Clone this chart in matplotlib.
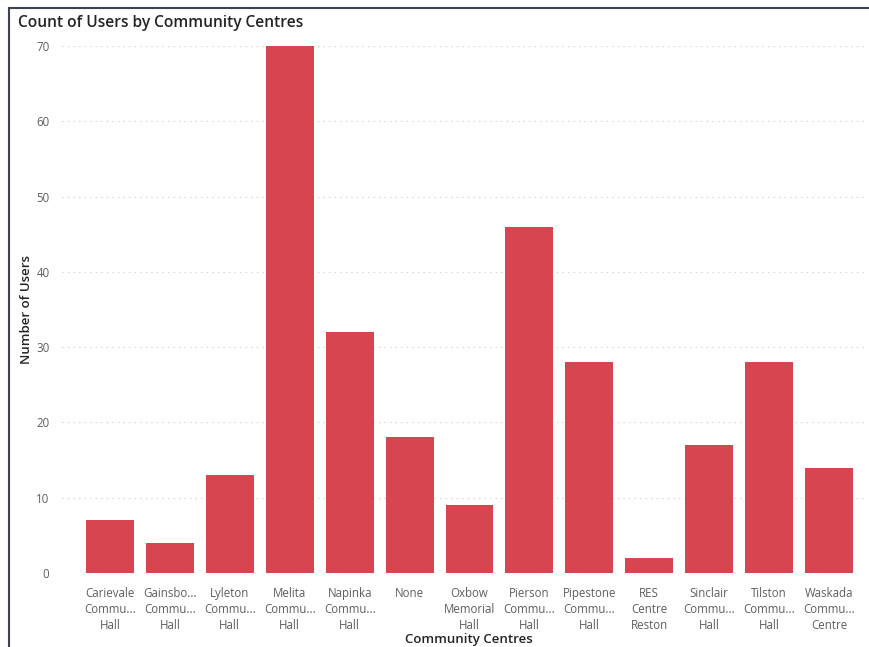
import matplotlib
matplotlib.use("Agg")
import matplotlib.pyplot as plt
from matplotlib.lines import Line2D

# 各社区中心的用户数
centres = [
    "Carievale\nCommu...\nHall", "Gainsbo...\nCommu...\nHall", "Lyleton\nCommu...\nHall",
    "Melita\nCommu...\nHall", "Napinka\nCommu...\nHall", "None",
    "Oxbow\nMemorial\nHall", "Pierson\nCommu...\nHall", "Pipestone\nCommu...\nHall",
    "RES\nCentre\nReston", "Sinclair\nCommu...\nHall", "Tilston\nCommu...\nHall",
    "Waskada\nCommu...\nCentre",
]
users = [7, 4, 13, 70, 32, 18, 9, 46, 28, 2, 17, 28, 14]
y_ticks = [0, 10, 20, 30, 40, 50, 60, 70]

plt.rcParams["font.family"] = ["Open Sans", "DejaVu Sans"]

fig = plt.figure(figsize=(8.7, 6.47), dpi=100)
ax = fig.add_axes([62 / 870, 1 - 573 / 647, (865 - 62) / 870, (573 - 46) / 647])

x = list(range(len(users)))
ax.bar(x, users, width=0.8, color="#D64550", zorder=3)

ax.set_xlim(-0.8, 12.6)
ax.set_ylim(0, 70)
ax.set_yticks(y_ticks)
ax.set_xticks(x)
ax.set_xticklabels(centres, fontsize=8.3, color="#605E5C", linespacing=1.33)
ax.tick_params(axis="y", labelsize=8.3, labelcolor="#605E5C", length=0, pad=9)
ax.tick_params(axis="x", length=0, pad=10)
ax.grid(axis="y", color="#C8C8C8", linestyle=(0, (1, 4)), linewidth=0.8, zorder=0)
for side in ax.spines.values():
    side.set_visible(False)

ax.set_ylabel("Number of Users", fontsize=9.5, color="#252423", fontweight="semibold")
ax.yaxis.set_label_coords((33 - 62) / 803, 0.5)
ax.set_xlabel("Community Centres", fontsize=9.5, color="#252423", fontweight="semibold")
ax.xaxis.set_label_coords((469 - 62) / 803, (573 - 639) / 527)
ax.xaxis.label.set_va("center")

fig.text(18 / 870, 1 - 23 / 647, "Count of Users by Community Centres", fontsize=11.2,
         fontweight="semibold", color="#252423", va="center", ha="left")

# 外框：只有上边和左边
fig.add_artist(Line2D([9 / 870, 1], [1 - 8 / 647, 1 - 8 / 647], color="#3B4252", lw=1.5))
fig.add_artist(Line2D([9 / 870, 9 / 870], [0, 1 - 8 / 647], color="#3B4252", lw=1.5))

fig.savefig("out.png", dpi=100)
plt.close(fig)
